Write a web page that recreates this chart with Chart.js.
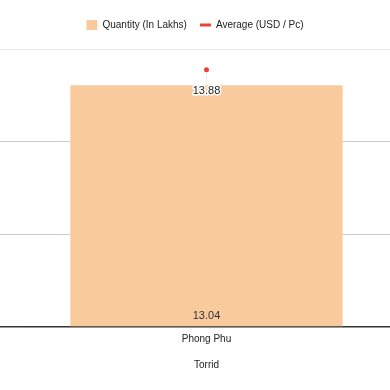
<!DOCTYPE html>
<html>
<head>
<meta charset="utf-8">
<script src="https://cdn.jsdelivr.net/npm/chart.js@4/dist/chart.umd.min.js"></script>
<style>
  html, body { margin: 0; padding: 0; background: #fff; }
  #wrap { width: 390px; height: 390px; }
</style>
</head>
<body>
<div id="wrap"><canvas id="myChart"></canvas></div>
<script>
let categories = [['Phong Phu', '', 'Torrid']];
let quantity = [13.04];
let average = [13.88];
let yTicks = [0, 5, 10, 15];

// draws the value labels (no datalabels plugin here)
let valueLabels = {
  id: 'valueLabels',
  afterDatasetsDraw(chart) {
    let ctx = chart.ctx;
    ctx.save();
    ctx.font = '11px Arial';
    ctx.textAlign = 'center';
    ctx.textBaseline = 'middle';

    chart.getDatasetMeta(0).data.forEach((bar, i) => {
      ctx.fillStyle = '#333';
      ctx.fillText(quantity[i].toFixed(2), bar.x, bar.base - 10);
    });

    chart.getDatasetMeta(1).data.forEach((pt, i) => {
      ctx.strokeStyle = '#ececec';
      ctx.lineWidth = 1;
      ctx.beginPath();
      ctx.moveTo(pt.x, pt.y + 3);
      ctx.lineTo(pt.x, pt.y + 15);
      ctx.stroke();
      ctx.lineWidth = 3;
      ctx.strokeStyle = '#fff';
      ctx.lineJoin = 'round';
      ctx.strokeText(average[i].toFixed(2), pt.x, pt.y + 21);
      ctx.fillStyle = '#222';
      ctx.fillText(average[i].toFixed(2), pt.x, pt.y + 21);
    });
    ctx.restore();
  }
};

let legendMargin = {
  id: 'legendMargin',
  beforeInit(chart) {
    let fit = chart.legend.fit;
    chart.legend.fit = function () {
      fit.bind(chart.legend)();
      this.height += 9;
    };
  }
};

let chart = new Chart(document.getElementById('myChart'), {
  data: {
    labels: categories,
    datasets: [{
      type: 'bar',
      label: 'Quantity (In Lakhs)',
      data: quantity,
      backgroundColor: '#f9cb9c',
      categoryPercentage: 1,
      barPercentage: 0.742,
      order: 2
    }, {
      type: 'line',
      label: 'Average (USD / Pc)',
      data: average,
      showLine: false,
      borderColor: '#ea4335',
      backgroundColor: '#ea4335',
      pointRadius: 2.5,
      pointBorderWidth: 0,
      order: 1
    }]
  },
  options: {
    responsive: true,
    maintainAspectRatio: false,
    animation: false,
    layout: { autoPadding: false, padding: { top: 7, bottom: 20, left: 0, right: 0 } },
    plugins: {
      tooltip: { enabled: false },
      legend: {
        position: 'top',
        labels: {
          usePointStyle: true,
          pointStyleWidth: 11,
          padding: 13,
          color: '#222',
          font: { family: 'Arial', size: 10 },
          generateLabels(c) {
            return c.data.datasets.map((ds, i) => ({
              text: ds.label,
              fillStyle: ds.backgroundColor,
              strokeStyle: ds.backgroundColor,
              lineWidth: i === 0 ? 0 : 3,
              pointStyle: i === 0 ? 'rect' : 'line',
              datasetIndex: i,
              fontColor: '#222'
            }));
          }
        }
      }
    },
    scales: {
      x: {
        grid: { display: false },
        border: { display: false },
        ticks: {
          color: '#222',
          padding: -2,
          font: { family: 'Arial', size: 10, lineHeight: 1.3 }
        }
      },
      y: {
        min: 0,
        max: 15,
        afterBuildTicks(axis) {
          axis.ticks = yTicks.map(v => ({ value: v }));
        },
        border: { display: false },
        grid: {
          drawTicks: true,
          tickLength: 23,
          lineWidth: ctx => ctx.tick.value === 0 ? 1.5 : 1,
          color: ctx => ctx.tick.value === 15 ? '#e6e6e6' : (ctx.tick.value === 0 ? '#333333' : '#cccccc')
        },
        ticks: { display: false }
      }
    }
  },
  plugins: [valueLabels, legendMargin]
});
</script>
</body>
</html>
